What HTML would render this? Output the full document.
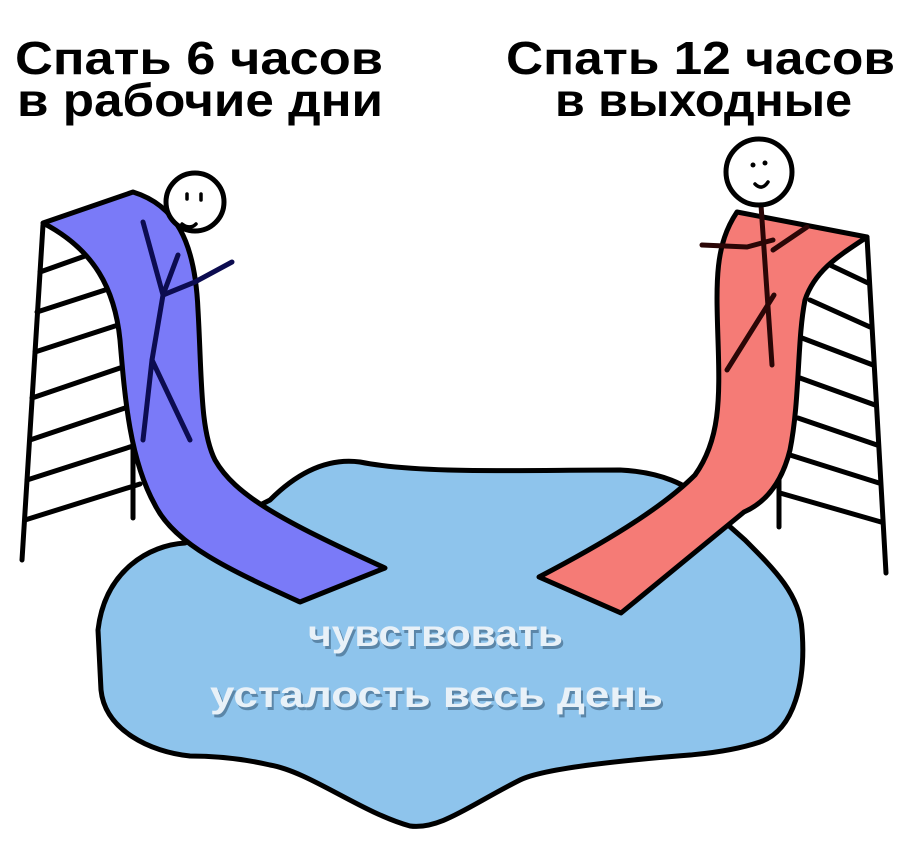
<!DOCTYPE html>
<html><head><meta charset="utf-8"><style>
html,body{margin:0;padding:0;background:#fff;}
svg{display:block}
</style></head><body>
<svg width="908" height="854" viewBox="0 0 908 854" xmlns="http://www.w3.org/2000/svg">
<rect width="908" height="854" fill="#fff"/>
<g font-family="Liberation Sans, sans-serif" font-weight="bold" font-size="46" fill="#000">
<text x="15" y="74" textLength="368" lengthAdjust="spacingAndGlyphs">Спать 6 часов</text>
<text x="17" y="116" textLength="366" lengthAdjust="spacingAndGlyphs">в рабочие дни</text>
<text x="506" y="74" textLength="389" lengthAdjust="spacingAndGlyphs">Спать 12 часов</text>
<text x="555" y="116" textLength="297" lengthAdjust="spacingAndGlyphs">в выходные</text>
</g>
<!-- puddle -->
<path d="M98,630 C105,570 150,545 185,543 L270,500 C300,470 330,458 360,462 C420,474 520,470 620,470 C660,472 690,485 700,500 L745,540 C775,570 800,595 802,630 C806,680 795,730 760,742 C730,752 700,754 690,755 C600,762 540,770 520,780 C470,805 440,830 410,826 C360,812 310,772 270,765 C240,758 210,756 190,756 C150,752 105,730 101,690 Z" fill="#8ec4ec" stroke="#000" stroke-width="5" stroke-linejoin="round"/>
<!-- left ladder -->
<g stroke="#000" stroke-width="5" stroke-linecap="round" fill="none">
<line x1="43" y1="225" x2="22" y2="560"/>
<line x1="133" y1="440" x2="133" y2="518"/>
<line x1="40" y1="272" x2="85" y2="256"/>
<line x1="37" y1="312" x2="105" y2="290"/>
<line x1="35" y1="352" x2="115" y2="326"/>
<line x1="32" y1="398" x2="120" y2="368"/>
<line x1="30" y1="440" x2="125" y2="408"/>
<line x1="27" y1="480" x2="133" y2="446"/>
<line x1="25" y1="520" x2="140" y2="484"/>
</g>
<!-- right ladder -->
<g stroke="#000" stroke-width="5" stroke-linecap="round" fill="none">
<line x1="867" y1="237" x2="886" y2="573"/>
<line x1="779" y1="470" x2="779" y2="527"/>
<line x1="830" y1="265" x2="868" y2="283"/>
<line x1="810" y1="300" x2="870" y2="327"/>
<line x1="802" y1="338" x2="873" y2="365"/>
<line x1="800" y1="378" x2="875" y2="405"/>
<line x1="798" y1="418" x2="877" y2="445"/>
<line x1="790" y1="455" x2="879" y2="483"/>
<line x1="780" y1="493" x2="881" y2="522"/>
</g>
<!-- blue slide -->
<path d="M43,223 L133,192 C175,205 195,240 198,310 C202,380 200,430 215,460 C235,495 280,520 385,568 L300,602 C230,570 175,545 155,505 C130,460 125,400 120,340 C115,290 95,250 43,223 Z" fill="#7a7af8" stroke="#000" stroke-width="5" stroke-linejoin="round"/>
<!-- blue figure -->
<g stroke="#0c0c50" stroke-width="5" stroke-linecap="round" fill="none">
<line x1="143" y1="222" x2="163" y2="295"/>
<path d="M178,255 L163,295 L152,360 L143,440"/>
<line x1="152" y1="360" x2="190" y2="440"/>
<path d="M163,295 L195,282 L232,262"/>
</g>
<circle cx="195" cy="202" r="29" fill="#fff" stroke="#000" stroke-width="5"/>
<g stroke="#000" stroke-width="3.5" stroke-linecap="round" fill="none">
<line x1="187" y1="194" x2="187" y2="199"/>
<line x1="201" y1="194" x2="201" y2="200"/>
<path d="M182,224 Q190,230 196,224"/>
</g>
<!-- red slide -->
<path d="M737,212 L867,237 C840,255 815,270 805,300 C797,340 800,400 790,450 C780,490 760,505 744,512 L621,613 L539,577 C600,545 660,510 695,475 C720,440 720,400 718,340 C716,280 715,245 737,212 Z" fill="#f57b76" stroke="#000" stroke-width="5" stroke-linejoin="round"/>
<!-- red figure -->
<g stroke="#2a0606" stroke-width="5" stroke-linecap="round" fill="none">
<line x1="761" y1="205" x2="772" y2="365"/>
<path d="M702,245 L747,247 L773,240"/>
<line x1="773" y1="250" x2="807" y2="227"/>
<line x1="774" y1="295" x2="727" y2="370"/>
</g>
<circle cx="759" cy="172" r="33" fill="#fff" stroke="#000" stroke-width="5"/>
<g fill="#000"><circle cx="753" cy="165" r="2.5"/><circle cx="765" cy="163" r="2.5"/></g>
<path d="M755,184 Q762,191 768,182" stroke="#000" stroke-width="3.5" fill="none" stroke-linecap="round"/>
<!-- puddle text -->
<g font-family="Liberation Sans, sans-serif" font-weight="bold" font-size="37">
<text x="310" y="649" textLength="255" lengthAdjust="spacingAndGlyphs" fill="#5b86a8">чувствовать</text>
<text x="308" y="646" textLength="255" lengthAdjust="spacingAndGlyphs" fill="#e8f1f8">чувствовать</text>
<text x="212" y="710" textLength="453" lengthAdjust="spacingAndGlyphs" fill="#5b86a8">усталость  весь  день</text>
<text x="210" y="707" textLength="453" lengthAdjust="spacingAndGlyphs" fill="#e8f1f8">усталость  весь  день</text>
</g>
</svg>
</body></html>
